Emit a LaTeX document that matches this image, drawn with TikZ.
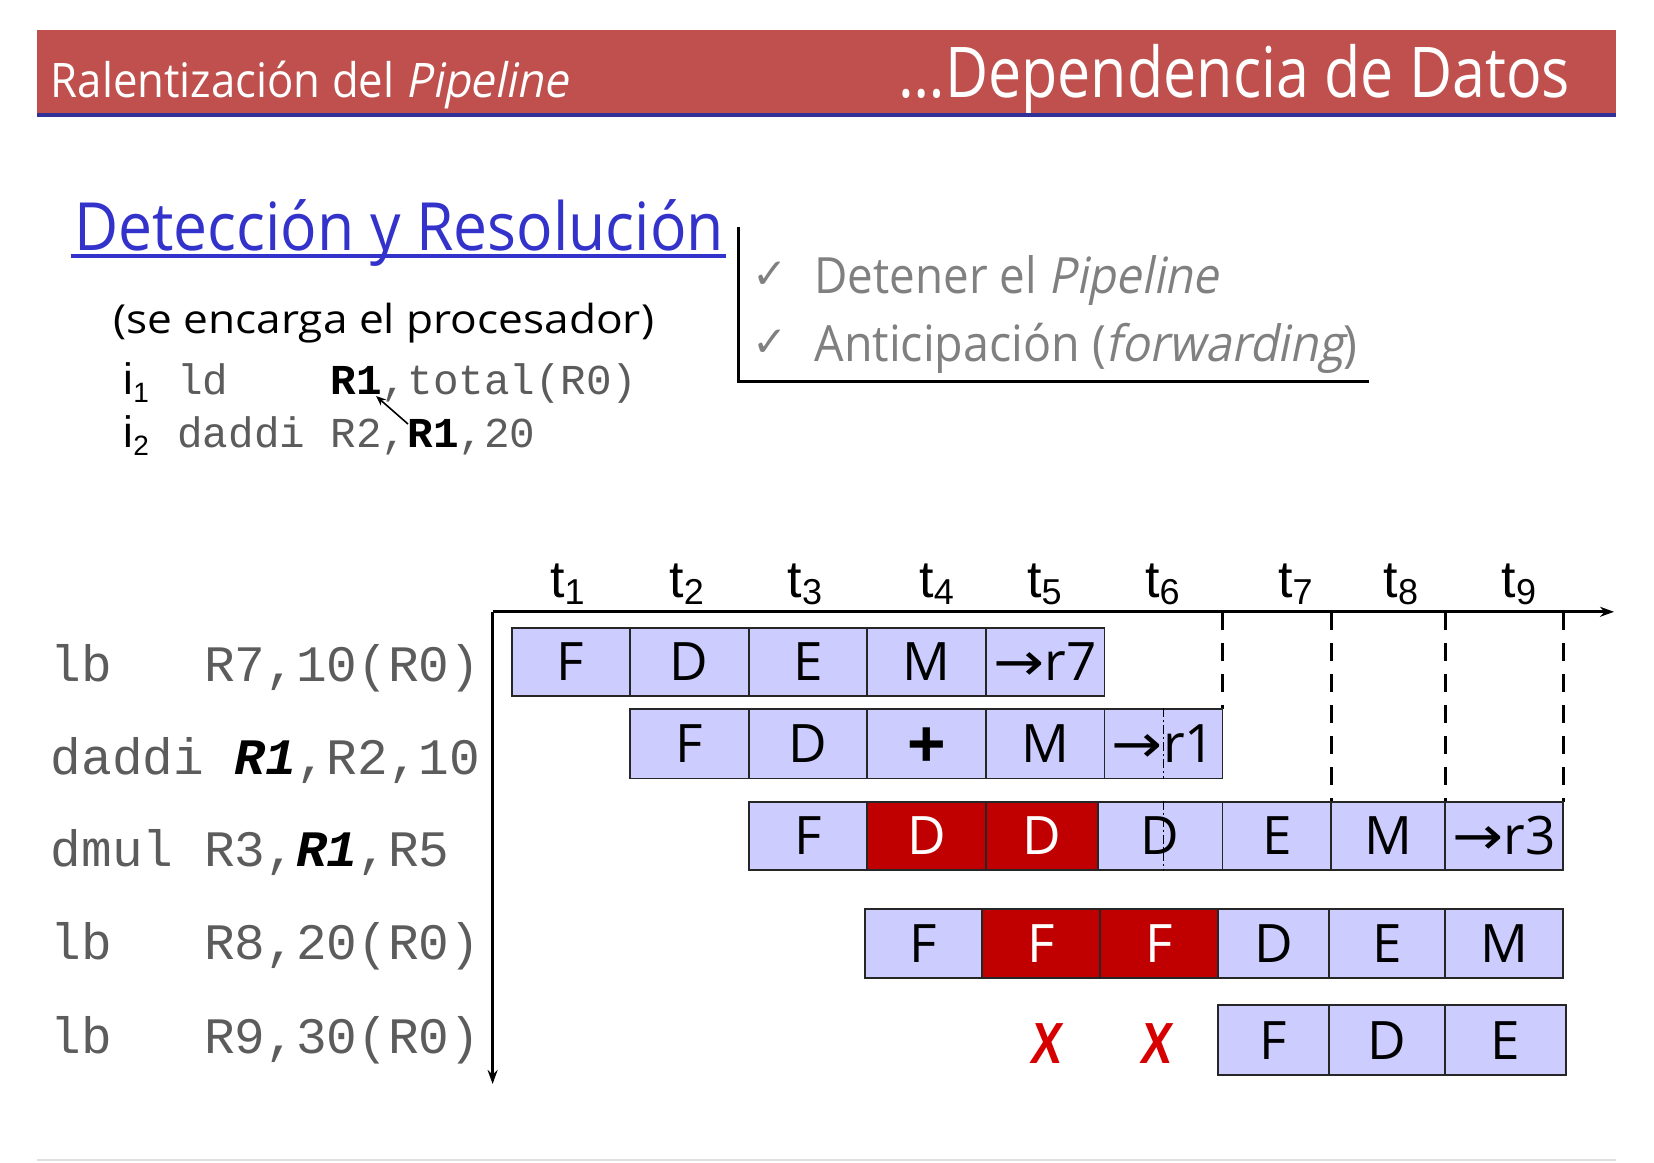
\documentclass[tikz,border=0pt]{standalone}
\usepackage{fontspec}
\usepackage{graphicx}
\usetikzlibrary{arrows.meta}
\setmainfont{Open Sans}[ItalicFont={Open Sans},ItalicFeatures={FakeSlant=0.22}]
\newfontfamily\arialfont{Liberation Sans}
\newfontfamily\monofont{Liberation Mono}
\newfontfamily\symfont{DejaVu Sans}
\newcommand\fs[1]{\fontsize{#1}{#1}\selectfont}
\newcommand\wfit[2]{\resizebox{#1}{\height}{#2}}
\definecolor{bandred}{RGB}{192,80,77}
\definecolor{bandline}{RGB}{48,48,150}
\definecolor{titleblue}{RGB}{51,51,204}
\definecolor{softgray}{RGB}{128,128,128}
\definecolor{codegray}{RGB}{92,92,92}
\definecolor{lav}{RGB}{204,204,255}
\definecolor{stallred}{RGB}{192,0,0}
\definecolor{xred}{RGB}{214,0,0}
% one pipeline stage: name, x-left, x-right, y-top, y-bottom, style, text
\newcommand\stage[7]{\node[#6, minimum width={(#3)-(#2)}, minimum height={(#5)-(#4)}] (#1) at ({((#2)+(#3))/2},{((#4)+(#5))/2}) {#7};}
\newcommand\toarrow{{\symfont\scalebox{1.15}[1]{→}}}
\newcommand\chk{\raisebox{5pt}{\symfont\fs{42}✓}}
\begin{document}
\begin{tikzpicture}[x=1pt,y=-1pt,
  txt/.style={inner sep=0pt, anchor=base west},
  tick/.style={inner sep=0pt, anchor=base, font=\arialfont\fs{52}},
  code/.style={txt, font=\monofont\fs{51.1}, text=codegray},
  stg/.style={draw=black!85, line width=1.8pt, fill=lav, inner sep=0pt,
    font=\fs{53}, text height=38pt, text depth=0pt},
  stall/.style={stg, fill=stallred, text=white},
  axis/.style={line width=3pt, -{Stealth[length=14pt,width=10pt]}},
  slot/.style={line width=3pt, dash pattern=on 18pt off 13pt},
  midslot/.style={line width=1.4pt, dash pattern=on 9pt off 3pt on 2pt off 3pt},
  killed/.style={inner sep=0pt, text=xred, font=\arialfont\bfseries\fs{58}, xslant=0.12, transform shape}]
\useasboundingbox (0,0) rectangle (1654,1162);
\fill[white] (0,0) rectangle (1654,1162);

% header band
\fill[bandred] (37,30) rectangle (1616,114);
\node[txt, text=white] (hdrL) at (50.6,97) {\fs{47.6}\wfit{517pt}{Ralentización del \textit{Pipeline}}};
\node[txt, text=white] (hdrR) at (898.7,97) {\fs{70}\wfit{671pt}{…Dependencia de Datos}};
\fill[bandline] (37,113) rectangle (1616,117);

% section title
\node[txt, text=titleblue] (title) at (73.8,250) {\fs{66.5}\wfit{650pt}{Detección y Resolución}};
\draw[titleblue, line width=4pt] (70.7,256) -- (725.7,256);
\node[txt] (who) at (112.9,333) {\fs{40}\wfit{541pt}{(se encarga el procesador)}};

% the two dependent instructions
\node[txt, font=\arialfont\fs{44}] (i1) at (123.4,394.5) {i\raisebox{-8pt}{\fs{28}1}};
\node[txt, font=\arialfont\fs{44}] (i2) at (123.4,447) {i\raisebox{-8pt}{\fs{28}2}};
\node[txt, font=\monofont\fs{42.6}, text=codegray] (ld) at (177.2,394.5) {ld\ \ \ \ \textcolor{black}{\textbf{R1}},total(R0)};
\node[txt, font=\monofont\fs{42.6}, text=codegray] (dad) at (177.2,447) {daddi\ R2,\textcolor{black}{\textbf{R1}},20};
\coordinate (useR1) at (408,424);
\coordinate (defR1) at (376,396);
\draw[line width=1.6pt, -{Stealth[length=10pt,width=8pt]}] (useR1) -- (defR1);

% solutions
\node[txt, text=softgray] (ck1) at (752,293) {\chk};
\node[txt, text=softgray] (sol1) at (814.3,293) {\fs{50}\wfit{404pt}{Detener el \textit{Pipeline}}};
\node[txt, text=softgray] (ck2) at (752,361) {\chk};
\node[txt, text=softgray] (sol2) at (814.3,361) {\fs{50}\wfit{543pt}{Anticipación (\textit{forwarding})}};
\draw[line width=3pt] (738.4,226.8) -- (738.4,381.8) -- (1369,381.8);

% time axes
\coordinate (O) at (492.6,611.8);
\coordinate (tEnd) at (1614,611.8);
\coordinate (iEnd) at (492.6,1084);
\draw[axis] (O) -- (tEnd);
\draw[axis] (O) -- (iEnd);
\foreach \n/\x in {1/567.5,2/686.7,3/804.8,4/936.7,5/1044.3,6/1162.4,7/1295.3,8/1400.8,9/1518.9}
  \node[tick] (t\n) at (\x,597) {t\raisebox{-7pt}{\fs{36}\n}};
\draw[slot] (1222.5,611.8) -- (1222.5,708.8);
\foreach \x in {1331,1445,1563.2}
  \draw[slot] (\x,611.8) -- (\x,801.6);

% instruction list
\node[code] (ins1) at (50.6,681.5) {lb\ \ \ R7,10(R0)};
\node[code] (ins2) at (50.6,774) {daddi\ \textcolor{black}{\textbf{\textit{R1}}},R2,10};
\node[code] (ins3) at (50.6,866) {dmul\ R3,\textcolor{black}{\textbf{\textit{R1}}},R5};
\node[code] (ins4) at (50.6,959) {lb\ \ \ R8,20(R0)};
\node[code] (ins5) at (50.6,1053) {lb\ \ \ R9,30(R0)};

% lb R7
\stage{a1}{511.6}{629.7}{627.6}{696.2}{stg}{F}
\stage{a2}{629.7}{748.9}{627.6}{696.2}{stg}{D}
\stage{a3}{748.9}{867}{627.6}{696.2}{stg}{E}
\stage{a4}{867}{986.2}{627.6}{696.2}{stg}{M}
\stage{a5}{986.2}{1104.4}{627.6}{696.2}{stg}{\toarrow r7}
% daddi
\stage{b1}{629.7}{748.9}{708.8}{778.4}{stg}{F}
\stage{b2}{748.9}{867}{708.8}{778.4}{stg}{D}
\stage{b3}{867}{986.2}{708.8}{778.4}{stg}{\raisebox{-4pt}{\arialfont\bfseries\fs{66}+}}
\stage{b4}{986.2}{1104.4}{708.8}{778.4}{stg}{M}
\stage{b5}{1104.4}{1222.5}{708.8}{778.4}{stg}{\toarrow r1}
% dmul
\stage{c1}{748.9}{867}{801.6}{870.2}{stg}{F}
\stage{c2}{867}{986.2}{801.6}{870.2}{stall}{D}
\stage{c3}{986.2}{1098}{801.6}{870.2}{stall}{D}
\stage{c4}{1098}{1222.5}{801.6}{870.2}{stg}{D}
\stage{c5}{1222.5}{1331}{801.6}{870.2}{stg}{E}
\stage{c6}{1331}{1445}{801.6}{870.2}{stg}{M}
\stage{c7}{1445}{1563.2}{801.6}{870.2}{stg}{\toarrow r3}
% lb R8
\stage{d1}{865}{982}{909.2}{977.8}{stg}{F}
\stage{d2}{982}{1100}{909.2}{977.8}{stall}{F}
\stage{d3}{1100}{1218}{909.2}{977.8}{stall}{F}
\stage{d4}{1218}{1329}{909.2}{977.8}{stg}{D}
\stage{d5}{1329}{1445}{909.2}{977.8}{stg}{E}
\stage{d6}{1445}{1563.2}{909.2}{977.8}{stg}{M}
% lb R9
\stage{e1}{1218}{1329}{1005.2}{1074.8}{stg}{F}
\stage{e2}{1329}{1445}{1005.2}{1074.8}{stg}{D}
\stage{e3}{1445}{1566}{1005.2}{1074.8}{stg}{E}
\node[killed] (x1) at (1047.4,1044) {\scalebox{0.8}[1]{X}};
\node[killed] (x2) at (1157,1044) {\scalebox{0.8}[1]{X}};

% mid-cycle marks in t6
\draw[midslot] (b5.north) -- (b5.south);
\draw[midslot] (c4.north -| b5.north) -- (c4.south -| b5.south);

% footer rule
\draw[black!12, line width=2pt] (37,1160) -- (1616,1160);
\end{tikzpicture}
\end{document}
